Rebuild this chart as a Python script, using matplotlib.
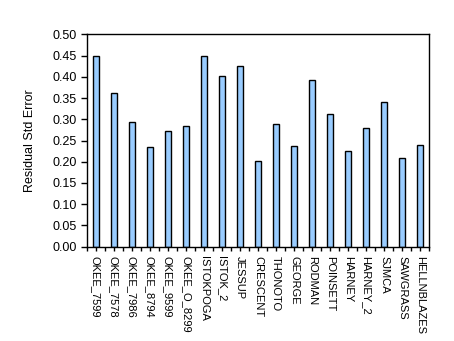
import numpy as np
import matplotlib.pyplot as plt

stations = ['OKEE_7599', 'OKEE_7578', 'OKEE_7986', 'OKEE_8794', 'OKEE_9599',
            'OKEE_O_8299', 'ISTOKPOGA', 'ISTOK_2', 'JESSUP', 'CRESCENT',
            'THONOTO', 'GEORGE', 'RODMAN', 'POINSETT', 'HARNEY', 'HARNEY_2',
            'SJMCA', 'SAWGRASS', 'HELLNBLAZES']
resid_se = [0.450, 0.361, 0.293, 0.234, 0.272, 0.283, 0.448, 0.401, 0.425,
            0.201, 0.288, 0.236, 0.392, 0.312, 0.225, 0.279, 0.340, 0.210, 0.239]

plt.rcParams['font.family'] = ['Liberation Sans', 'DejaVu Sans']

fig = plt.figure(figsize=(4.54, 3.41), dpi=100)
ax = fig.add_axes([0.191, 0.2765, 0.7546, 0.6229])

x = np.arange(len(stations))
ax.bar(x, resid_se, width=0.34, color='#99CCFF', edgecolor='black', linewidth=1.0)

ax.set_xlim(-0.5, len(stations) - 0.5)
ax.set_ylim(0, 0.5)
ax.set_yticks(np.arange(0, 0.501, 0.05))
ax.set_yticklabels(['%.2f' % v for v in np.arange(0, 0.501, 0.05)], fontsize=9)
ax.set_ylabel('Residual Std Error', fontsize=9, labelpad=12)

# ticks at category edges and centres, labels under the bars
ax.set_xticks(x)
ax.set_xticklabels(stations, rotation=-90, fontsize=8, va='top', ha='center')
ax.set_xticks(np.arange(-0.5, len(stations), 1.0), minor=True)
ax.tick_params(axis='x', which='both', direction='out', length=3, width=1)
ax.tick_params(axis='y', direction='out', length=4, width=1, pad=3)

for s in ax.spines.values():
    s.set_linewidth(1.0)

fig.savefig('out.png', dpi=100)
